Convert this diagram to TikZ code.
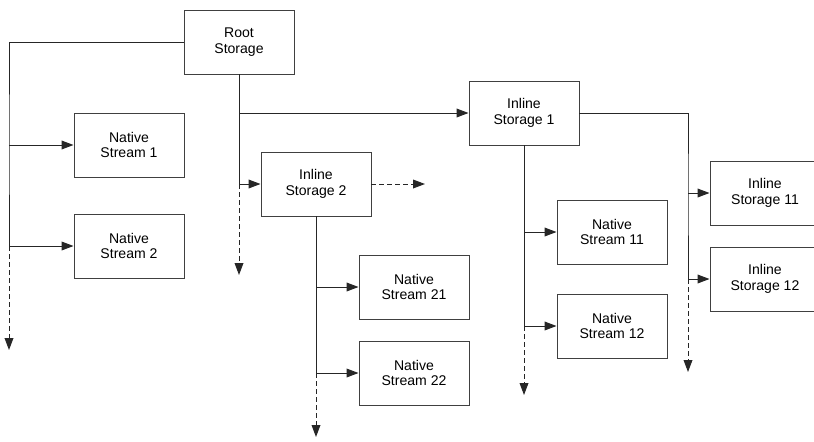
\documentclass[tikz,border=0pt]{standalone}
\usepackage{fontspec}
\setmainfont{Liberation Sans}
\usetikzlibrary{arrows.meta}

\tikzset{
  store/.style={draw=black!75, line width=0.7pt, minimum width=2.75cm, minimum height=1.6cm,
    align=center, inner sep=0pt, font=\fontsize{10}{11.2}\selectfont},
  link/.style={draw=black!85, line width=0.7pt},
  linkarr/.style={link, -{Triangle[length=0.3cm,width=0.22cm]}},
  linkdash/.style={linkarr, dash pattern=on 0.12cm off 0.08cm}
}

\begin{document}
\begin{tikzpicture}
        % Page frame (cuts the box at the right edge)
        \clip (0,0) rectangle (20.35,-11.025);

        % Storages and streams
        \node[store] (root) at (5.975,-1.05) {Root\\Storage};
        \node[store] (ns1) at (3.225,-3.625) {Native\\Stream 1};
        \node[store] (ns2) at (3.225,-6.15) {Native\\Stream 2};
        \node[store] (is2) at (7.9,-4.6) {Inline\\Storage 2};
        \node[store] (is1) at (13.1,-2.825) {Inline\\Storage 1};
        \node[store] (ns21) at (10.35,-7.175) {Native\\Stream 21};
        \node[store] (ns22) at (10.35,-9.325) {Native\\Stream 22};
        \node[store] (ns11) at (15.3,-5.8) {Native\\Stream 11};
        \node[store] (ns12) at (15.3,-8.15) {Native\\Stream 12};
        \node[store] (is11) at (19.125,-4.825) {Inline\\Storage 11};
        \node[store] (is12) at (19.125,-6.975) {Inline\\Storage 12};

        % Branch points
        \coordinate (l1) at (0.225,-3.625);
        \coordinate (l2) at (0.225,-6.15);
        \coordinate (lend) at (0.225,-8.75);
        \coordinate (r1) at (5.975,-2.825);
        \coordinate (r2) at (5.975,-4.6);
        \coordinate (rend) at (5.975,-6.875);
        \coordinate (s2out) at (10.625,-4.6);
        \coordinate (s21) at (7.9,-7.175);
        \coordinate (s22) at (7.9,-9.325);
        \coordinate (s2end) at (7.9,-10.925);
        \coordinate (s11) at (13.1,-5.8);
        \coordinate (s12) at (13.1,-8.15);
        \coordinate (s1end) at (13.1,-9.875);
        \coordinate (t11) at (17.2,-4.825);
        \coordinate (t12) at (17.2,-6.975);
        \coordinate (tend) at (17.2,-9.3);

        % Root storage
        \draw[link] (root.west) -| (l1) -- (l2);
        \draw[linkarr] (l1) -- (ns1);
        \draw[linkarr] (l2) -- (ns2);
        \draw[linkdash] (l2) -- (lend);
        \draw[link] (root.south) -- (r2);
        \draw[linkarr] (r1) -- (is1);
        \draw[linkarr] (r2) -- (is2);
        \draw[linkdash] (r2) -- (rend);

        % Inline storage 2
        \draw[linkdash] (is2) -- (s2out);
        \draw[link] (is2.south) -- (s22);
        \draw[linkarr] (s21) -- (ns21);
        \draw[linkarr] (s22) -- (ns22);
        \draw[linkdash] (s22) -- (s2end);

        % Inline storage 1
        \draw[link] (is1.south) -- (s12);
        \draw[linkarr] (s11) -- (ns11);
        \draw[linkarr] (s12) -- (ns12);
        \draw[linkdash] (s12) -- (s1end);
        \draw[link] (is1.east) -| (t11) -- (t12);
        \draw[linkarr] (t11) -- (is11);
        \draw[linkarr] (t12) -- (is12);
        \draw[linkdash] (t12) -- (tend);
\end{tikzpicture}
\end{document}
